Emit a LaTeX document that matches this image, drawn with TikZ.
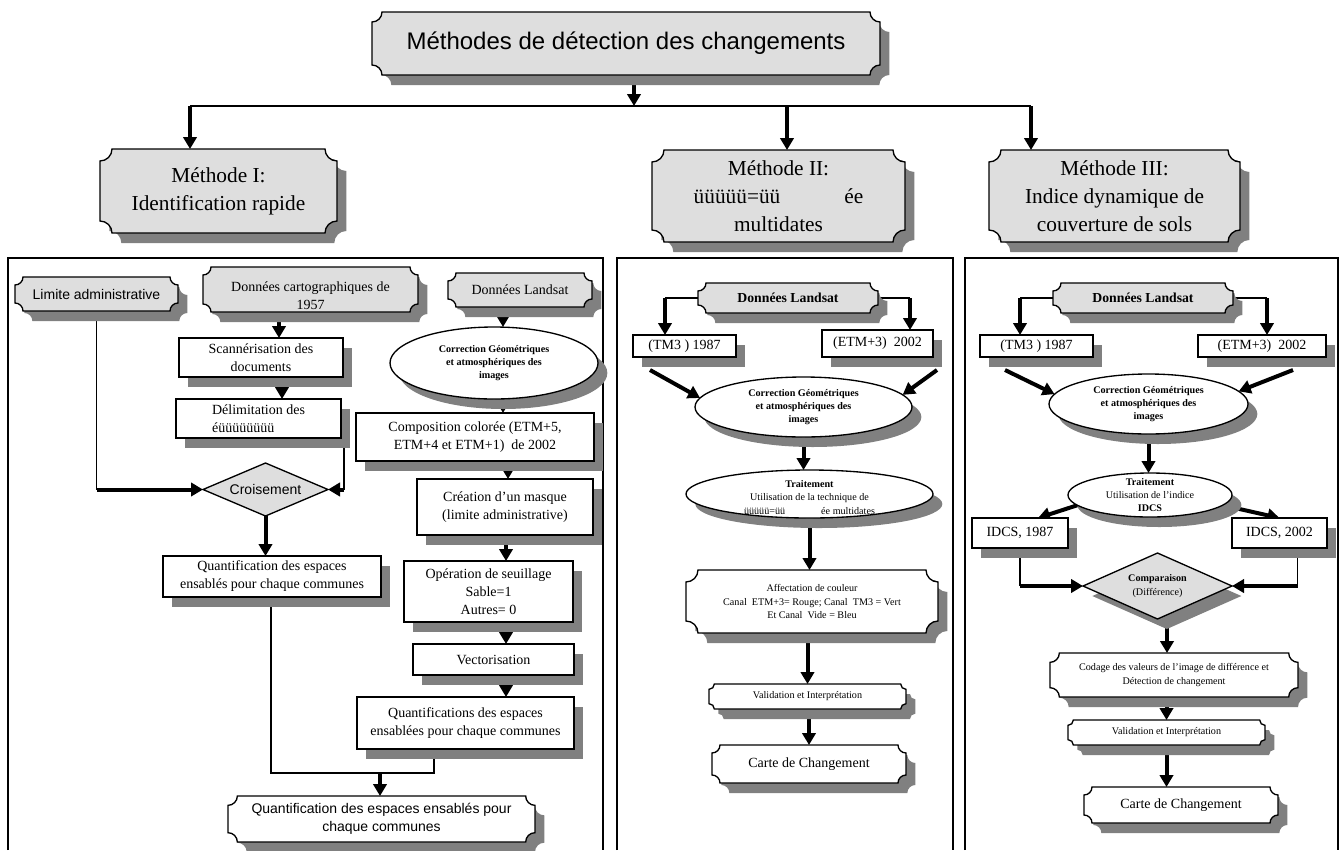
\documentclass[tikz,border=0pt]{standalone}
\usepackage{fontspec}
\setmainfont{Liberation Serif}
\newfontfamily\arial{Liberation Sans}
\usetikzlibrary{shapes.geometric,arrows.meta,shadows,backgrounds}

\definecolor{fondgris}{gray}{0.87}
\definecolor{ombregris}{gray}{0.5}

% rectangle with concave corners
\makeatletter
\tikzset{plaque radius/.initial=6pt}
\pgfdeclareshape{plaque}{
  \inheritsavedanchors[from=rectangle]
  \inheritanchorborder[from=rectangle]
  \inheritanchor[from=rectangle]{center}
  \inheritanchor[from=rectangle]{north}
  \inheritanchor[from=rectangle]{south}
  \inheritanchor[from=rectangle]{east}
  \inheritanchor[from=rectangle]{west}
  \inheritanchor[from=rectangle]{north east}
  \inheritanchor[from=rectangle]{north west}
  \inheritanchor[from=rectangle]{south east}
  \inheritanchor[from=rectangle]{south west}
  \inheritanchor[from=rectangle]{mid}
  \inheritanchor[from=rectangle]{base}
  \backgroundpath{
    \pgfkeysgetvalue{/tikz/plaque radius}{\pqr}
    \southwest \edef\pqxa{\the\pgf@x}\edef\pqya{\the\pgf@y}
    \northeast \edef\pqxb{\the\pgf@x}\edef\pqyb{\the\pgf@y}
    \pgfpathmoveto{\pgfpoint{\pqxa+\pqr}{\pqya}}
    \pgfpathlineto{\pgfpoint{\pqxb-\pqr}{\pqya}}
    \pgfpatharc{180}{90}{\pqr}
    \pgfpathlineto{\pgfpoint{\pqxb}{\pqyb-\pqr}}
    \pgfpatharc{270}{180}{\pqr}
    \pgfpathlineto{\pgfpoint{\pqxa+\pqr}{\pqyb}}
    \pgfpatharc{0}{-90}{\pqr}
    \pgfpathlineto{\pgfpoint{\pqxa}{\pqya+\pqr}}
    \pgfpatharc{90}{0}{\pqr}
    \pgfpathclose
  }
}
\makeatother

\begin{document}
\begin{tikzpicture}
[x=0.75pt, y=-0.75pt,
 every node/.style={inner sep=0pt, outer sep=0pt, align=center},
 taille/.style 2 args={minimum width=#1*0.75pt, minimum height=#2*0.75pt},
 ombre/.style={drop shadow={shadow xshift=7pt, shadow yshift=-7.5pt, fill=ombregris, opacity=1}},
 plaquette/.style={plaque, draw, line width=1pt, ombre},
 boite/.style={rectangle, draw, line width=1pt, fill=white, ombre},
 ovale/.style={ellipse, draw, line width=1pt, fill=white, ombre, inner sep=-4pt},
 losange/.style={diamond, draw, line width=1pt, fill=fondgris},
 serif/.style={font=\fontsize{10.5}{13.5}\selectfont},
 seriegras/.style={font=\bfseries\fontsize{10.3}{12.5}\selectfont},
 sans/.style={font=\arial\fontsize{10.5}{13.7}\selectfont},
 petit/.style={font=\fontsize{7.6}{10}\selectfont},
 petitgras/.style={font=\bfseries\fontsize{7.6}{9.6}\selectfont},
 methode/.style={font=\fontsize{16}{21}\selectfont},
 fleche/.style={line width=3pt, -{Triangle[width=10pt,length=9pt]}},
 ligne/.style={line width=1.3pt},
 cadre/.style={line width=1.5pt}]
\useasboundingbox (0,0) rectangle (1341,850);

% top of the tree
\node (titre) [plaquette, fill=fondgris, plaque radius=7.5pt, taille={508}{63}, font=\arial\fontsize{18}{22}\selectfont] at (626,43.5) {Méthodes de détection des changements};
\node (m1) [plaquette, fill=fondgris, plaque radius=9pt, taille={237}{84}, methode] at (218.5,191) {Méthode I:\\Identification rapide};
\node (m2) [plaquette, fill=fondgris, plaque radius=9pt, taille={253}{92}, methode] at (778.5,196) {Méthode II:\\üüüüü=üü\hspace{48pt}ée\\multidates};
\node (m3) [plaquette, fill=fondgris, plaque radius=9pt, taille={251}{92}, methode] at (1114.5,196) {Méthode III:\\Indice dynamique de\\couverture de sols};
\coordinate (busc) at (634,106);
\coordinate (bus1) at (190,106);
\coordinate (bus2) at (787,106);
\coordinate (bus3) at (1031,106);

% methode I
\node (limite) [plaquette, fill=fondgris, taille={163}{34}, sans] at (96.5,294) {Limite administrative};
\node (carto) [plaquette, fill=fondgris, taille={215}{45}, serif] at (310.5,289.5) {\raisebox{-5.5pt}[\height][\depth]{\begin{tabular}{@{}c@{}}Données cartographiques de\\1957\end{tabular}}};
\node (landsat1) [plaquette, fill=fondgris, taille={144}{34}, serif] at (520,290) {Données Landsat};
\node (scan) [boite, taille={164}{39}, serif] at (261,357.5) {Scannérisation des\\documents};
\node (delim) [boite, taille={165}{39}, serif, align=left] at (258.5,418.5) {Délimitation des\\éüüüüüüüü};
\node (crois) [losange, aspect=2.36, taille={125}{53}, sans] at (265.5,489.5) {Croisement};
\node (quant1) [boite, taille={218}{41}, serif] at (272,576.5) {Quantification des espaces\\ensablés pour chaque communes};
\node (corr1) [ovale, taille={208}{72}, petitgras] at (494,363) {Correction Géométriques\\et atmosphériques des\\images};
\node (compo) [boite, taille={238}{48}, serif] at (475,437) {Composition colorée (ETM+5,\\ETM+4 et ETM+1)~ de 2002};
\node (masque) [boite, taille={176}{56}, serif] at (505,507) {Création d’un masque\\(limite administrative)};
\node (seuil) [boite, taille={169}{61}, serif] at (488.5,591.5) {Opération de seuillage\\Sable=1\\Autres= 0};
\node (vecto) [boite, taille={161}{31}, serif] at (493.5,659.5) {Vectorisation};
\node (quant2) [boite, taille={217}{52}, serif] at (465.5,723) {Quantifications des espaces\\ensablées pour chaque communes};
\node (final) [plaquette, fill=white, plaque radius=7pt, taille={307}{46}, sans] at (381.5,819) {Quantification des espaces ensablés pour\\chaque communes};
\coordinate (jonction) at (380,773);
\coordinate (dc) at ([xshift=2pt]delim.south east);

% methode II
\node (landsat2) [plaquette, fill=fondgris, taille={180}{30}, seriegras] at (788,298) {Données Landsat};
\node (tm2) [boite, taille={103}{22}, serif] at (684.5,346) {(TM3 ) 1987};
\node (etm2) [boite, taille={111}{27}, serif] at (877.5,343.5) {(ETM+3)~ 2002};
\node (corr2) [ovale, taille={217}{60}, petitgras] at (803.5,407) {Correction Géométriques\\et atmosphériques des\\images};
\node (trait2) [ovale, taille={247}{48}, petit] at (809.5,494) {\raisebox{-3pt}[\height][\depth]{\begin{tabular}{@{}c@{}}\textbf{Traitement}\\Utilisation de la technique de\\üüüüü=üü\hspace{27pt}ée multidates\end{tabular}}};
\node (affect) [plaquette, fill=white, plaque radius=9pt, taille={252}{63}, petit] at (812,601.5) {Affectation de couleur\\Canal~ ETM+3= Rouge; Canal~ TM3 = Vert\\Et Canal~ Vide = Bleu};
\node (valid2) [plaquette, fill=white, plaque radius=4pt, taille={197}{25}, petit] at (807.5,696.5) {Validation et Interprétation};
\node (carte2) [plaquette, fill=white, plaque radius=6pt, taille={194}{38}, serif] at (809,764) {Carte de Changement};

% methode III
\node (landsat3) [plaquette, fill=fondgris, taille={180}{30}, seriegras] at (1143,298) {Données Landsat};
\node (tm3) [boite, taille={113}{22}, serif] at (1036.5,346) {(TM3 ) 1987};
\node (etm3) [boite, taille={128}{22}, serif] at (1262,346) {(ETM+3)~ 2002};
\node (corr3) [ovale, taille={199}{60}, petitgras] at (1148.5,404) {Correction Géométriques\\et atmosphériques des\\images};
\node (trait3) [ovale, taille={164}{44}, petit] at (1150,495) {\textbf{Traitement}\\Utilisation de l’indice\\\textbf{IDCS}};
\node (idcs1) [boite, taille={96}{30}, serif] at (1020,533) {IDCS, 1987};
\node (idcs2) [boite, taille={95}{30}, serif] at (1279.5,533) {IDCS, 2002};
\node (comp) [losange, ombre, aspect=2.25, taille={149}{66}, petit] at (1157.5,586) {\textbf{Comparaison}\\(Différence)};
\node (codage) [plaquette, fill=white, plaque radius=7pt, taille={248}{44}, petit] at (1174,675) {Codage des valeurs de l’image de différence et\\Détection de changement};
\node (valid3) [plaquette, fill=white, plaque radius=4pt, taille={197}{25}, petit] at (1166.5,732.5) {Validation et Interprétation};
\node (carte3) [plaquette, fill=white, plaque radius=6pt, taille={194}{36}, serif] at (1181,805) {Carte de Changement};
\coordinate (i2) at ([xshift=13.5pt]idcs2.south);

\begin{pgfonlayer}{background}
% frames
\draw[cadre] (8,850) -- (8,258) -- (603,258) -- (603,850);
\draw[cadre] (617,850) -- (617,258) -- (953,258) -- (953,850);
\draw[cadre] (965,850) -- (965,258) -- (1338,258) -- (1338,850);

% tree
\draw[fleche] (titre.south -| busc) -- (busc);
\draw[ligne] (bus1) -- (bus3);
\draw[fleche] (bus1) -- (bus1 |- m1.north);
\draw[fleche] (bus2) -- (bus2 |- m2.north);
\draw[fleche] (bus3) -- (bus3 |- m3.north);

% methode I
\draw[fleche] (carto.south -| 279,0) -- (279,0 |- scan.north);
\draw[fleche] (scan.south -| 282,0) -- (282,0 |- delim.north);
\draw[ligne] (limite.south) -- (limite.south |- crois.west);
\draw[fleche] (limite.south |- crois.west) -- (crois.west);
\draw[ligne] (dc) -- (dc |- crois.east);
\draw[fleche] (dc |- crois.east) -- (crois.east);
\draw[fleche] (crois.south) -- (crois.south |- quant1.north);
\draw[fleche] (landsat1.south -| 503,0) -- (503,0 |- corr1.north);
\draw[fleche] (corr1.south -| 503,0) -- (503,0 |- compo.north);
\draw[fleche] (compo.south -| 508,0) -- (508,0 |- masque.north);
\draw[fleche] (masque.south -| 506,0) -- (506,0 |- seuil.north);
\draw[fleche] (seuil.south -| 506,0) -- (506,0 |- vecto.north);
\draw[fleche] (vecto.south -| 506,0) -- (506,0 |- quant2.north);
\draw[ligne] (quant1.south -| 271,0) |- (jonction) -| (quant2.south -| 434,0);
\draw[fleche] (jonction) -- (jonction |- final.north);

% methode II
\draw[ligne] (landsat2.west) -- (landsat2.west -| 665,0);
\draw[fleche] (landsat2.west -| 665,0) -- (665,0 |- tm2.north);
\draw[ligne] (landsat2.east) -- (landsat2.east -| 910,0);
\draw[fleche] (landsat2.east -| 910,0) -- (910,0 |- etm2.north);
\draw[fleche] ([shift={(17,13)}]tm2.south west) -- (corr2.175);
\draw[fleche] ([shift={(4,13)}]etm2.south east) -- (corr2.7);
\draw[fleche] (corr2.south) -- (corr2.south |- trait2.north);
\draw[fleche] (trait2.south) -- (trait2.south |- affect.north);
\draw[fleche] (valid2.north |- affect.south) -- (valid2.north);
\draw[fleche] (carte2.north |- valid2.south) -- (carte2.north);

% methode III
\draw[ligne] (landsat3.west) -- (landsat3.west -| 1020,0);
\draw[fleche] (landsat3.west -| 1020,0) -- (1020,0 |- tm3.north);
\draw[ligne] (landsat3.east) -- (landsat3.east -| 1267,0);
\draw[fleche] (landsat3.east -| 1267,0) -- (1267,0 |- etm3.north);
\draw[fleche] ([shift={(25,13)}]tm3.south west) -- (corr3.174);
\draw[fleche] ([shift={(-33,13)}]etm3.south east) -- (corr3.8);
\draw[fleche] (corr3.south) -- (corr3.south |- trait3.north);
\draw[fleche] (trait3.188) -- ([shift={(18,0)}]idcs1.north);
\draw[fleche] (trait3.-8) -- (idcs2.north);
\draw[ligne] (idcs1.south) -- (idcs1.south |- comp.west);
\draw[fleche] (idcs1.south |- comp.west) -- (comp.west);
\draw[ligne] (i2) -- (i2 |- comp.east);
\draw[fleche] (i2 |- comp.east) -- (comp.east);
\draw[fleche] (comp.south -| 1167,0) -- (1167,0 |- codage.north);
\draw[fleche] (valid3.north |- codage.south) -- (valid3.north);
\draw[fleche] (valid3.south) -- (valid3.south |- carte3.north);
\end{pgfonlayer}
\end{tikzpicture}
\end{document}
